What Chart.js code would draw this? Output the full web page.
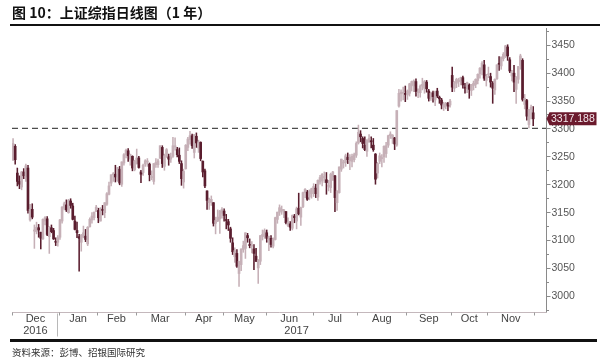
<!DOCTYPE html>
<html><head><meta charset="utf-8">
<script src="https://cdn.jsdelivr.net/npm/chart.js@4.4.1/dist/chart.umd.min.js"></script>
<style>
html,body{margin:0;padding:0;background:#fff;}
#wrap{position:relative;width:600px;height:361px;overflow:hidden;background:#fff;}
#title{position:absolute;left:12px;top:3px;font:700 14px/18px "Noto Sans CJK SC",sans-serif;color:#111;white-space:nowrap;}
#rule1{position:absolute;left:10px;top:24px;width:590px;height:2px;background:#111;}
#rule2{position:absolute;left:10px;top:339px;width:587px;height:3px;background:#111;}
#src{position:absolute;left:12px;top:346px;font:9.5px/13px "Noto Sans CJK SC",sans-serif;color:#333;white-space:nowrap;}
canvas{position:absolute;left:0;top:0;}
</style></head>
<body><div id="wrap">
<canvas id="c" width="600" height="361"></canvas>
<div id="title">图 10：上证综指日线图（1 年）</div>
<div id="rule1"></div>
<div id="src">资料来源：彭博、招银国际研究</div>
<div id="rule2"></div>
</div>
<script>
const dates = [
'2016-12-01','2016-12-02','2016-12-05','2016-12-06','2016-12-07','2016-12-08','2016-12-09','2016-12-12','2016-12-13','2016-12-14','2016-12-15','2016-12-16','2016-12-19','2016-12-20','2016-12-21','2016-12-22','2016-12-23','2016-12-26','2016-12-27','2016-12-28','2016-12-29','2016-12-30',
'2017-01-03','2017-01-04','2017-01-05','2017-01-06','2017-01-09','2017-01-10','2017-01-11','2017-01-12','2017-01-13','2017-01-16','2017-01-17','2017-01-18','2017-01-19','2017-01-20','2017-01-23','2017-01-24','2017-01-25','2017-01-26',
'2017-02-03','2017-02-06','2017-02-07','2017-02-08','2017-02-09','2017-02-10','2017-02-13','2017-02-14','2017-02-15','2017-02-16','2017-02-17','2017-02-20','2017-02-21','2017-02-22','2017-02-23','2017-02-24','2017-02-27','2017-02-28',
'2017-03-01','2017-03-02','2017-03-03','2017-03-06','2017-03-07','2017-03-08','2017-03-09','2017-03-10','2017-03-13','2017-03-14','2017-03-15','2017-03-16','2017-03-17','2017-03-20','2017-03-21','2017-03-22','2017-03-23','2017-03-24','2017-03-27','2017-03-28','2017-03-29','2017-03-30','2017-03-31',
'2017-04-05','2017-04-06','2017-04-07','2017-04-10','2017-04-11','2017-04-12','2017-04-13','2017-04-14','2017-04-17','2017-04-18','2017-04-19','2017-04-20','2017-04-21','2017-04-24','2017-04-25','2017-04-26','2017-04-27','2017-04-28',
'2017-05-02','2017-05-03','2017-05-04','2017-05-05','2017-05-08','2017-05-09','2017-05-10','2017-05-11','2017-05-12','2017-05-15','2017-05-16','2017-05-17','2017-05-18','2017-05-19','2017-05-22','2017-05-23','2017-05-24','2017-05-25','2017-05-26','2017-05-31',
'2017-06-01','2017-06-02','2017-06-05','2017-06-06','2017-06-07','2017-06-08','2017-06-09','2017-06-12','2017-06-13','2017-06-14','2017-06-15','2017-06-16','2017-06-19','2017-06-20','2017-06-21','2017-06-22','2017-06-23','2017-06-26','2017-06-27','2017-06-28','2017-06-29','2017-06-30',
'2017-07-03','2017-07-04','2017-07-05','2017-07-06','2017-07-07','2017-07-10','2017-07-11','2017-07-12','2017-07-13','2017-07-14','2017-07-17','2017-07-18','2017-07-19','2017-07-20','2017-07-21','2017-07-24','2017-07-25','2017-07-26','2017-07-27','2017-07-28','2017-07-31',
'2017-08-01','2017-08-02','2017-08-03','2017-08-04','2017-08-07','2017-08-08','2017-08-09','2017-08-10','2017-08-11','2017-08-14','2017-08-15','2017-08-16','2017-08-17','2017-08-18','2017-08-21','2017-08-22','2017-08-23','2017-08-24','2017-08-25','2017-08-28','2017-08-29','2017-08-30','2017-08-31',
'2017-09-01','2017-09-04','2017-09-05','2017-09-06','2017-09-07','2017-09-08','2017-09-11','2017-09-12','2017-09-13','2017-09-14','2017-09-15','2017-09-18','2017-09-19','2017-09-20','2017-09-21','2017-09-22','2017-09-25','2017-09-26','2017-09-27','2017-09-28','2017-09-29',
'2017-10-09','2017-10-10','2017-10-11','2017-10-12','2017-10-13','2017-10-16','2017-10-17','2017-10-18','2017-10-19','2017-10-20','2017-10-23','2017-10-24','2017-10-25','2017-10-26','2017-10-27','2017-10-30','2017-10-31',
'2017-11-01','2017-11-02','2017-11-03','2017-11-06','2017-11-07','2017-11-08','2017-11-09','2017-11-10','2017-11-13','2017-11-14','2017-11-15','2017-11-16','2017-11-17','2017-11-20','2017-11-21','2017-11-22','2017-11-23','2017-11-24','2017-11-27','2017-11-28','2017-11-29','2017-11-30'
];
const openP = [
3244,3268,3220,3205,3195,3222,3213,3229,3136,3155,3116,3115,3122,3114,3102,3134,3138,3106,3122,3117,3097,3096,
3105,3134,3157,3163,3149,3170,3161,3134,3117,3106,3096,3105,3107,3093,3124,3136,3140,3151,
3153,3134,3155,3149,3164,3182,3202,3217,3218,3207,3227,3200,3238,3253,3260,3245,3250,3226,
3237,3247,3222,3221,3236,3240,3236,3212,3205,3235,3235,3247,3266,3232,3250,3249,3245,3250,3267,3262,3252,3237,3204,
3228,3266,3280,3287,3257,3286,3265,3275,3241,3224,3188,3167,3168,3167,3130,3134,3138,3148,
3152,3136,3133,3120,3095,3070,3076,3040,3056,3083,3085,3108,3092,3089,3084,3071,3050,3062,3107,3106,
3113,3100,3103,3089,3101,3137,3150,3153,3150,3151,3126,3129,3121,3143,3134,3157,3141,3160,3185,3186,3177,3183,
3192,3193,3177,3204,3206,3212,3208,3196,3194,3214,3215,3167,3185,3227,3238,3239,3248,3242,3241,3244,3252,
3274,3290,3282,3270,3259,3276,3278,3270,3254,3220,3241,3246,3249,3255,3270,3287,3282,3283,3270,3340,3362,3363,3362,
3360,3363,3377,3376,3384,3364,3364,3376,3372,3383,3367,3354,3364,3351,3367,3356,3351,3338,3342,3345,3342,
3395,3372,3381,3384,3385,3391,3374,3371,3378,3368,3377,3379,3386,3398,3405,3414,3386,
3396,3393,3381,3369,3389,3416,3412,3425,3429,3446,3423,3394,3399,3370,3388,3413,3422,3343,3350,3307,3334,3328
];
const highP = [
3282,3271,3229,3215,3223,3228,3236,3234,3164,3165,3127,3132,3128,3114,3138,3142,3142,3124,3127,3121,3104,3108,
3137,3160,3168,3172,3173,3174,3166,3143,3132,3110,3110,3125,3119,3124,3140,3149,3150,3162,
3157,3158,3162,3167,3185,3204,3217,3221,3234,3230,3232,3240,3255,3263,3264,3254,3251,3243,
3263,3250,3225,3236,3244,3246,3238,3224,3237,3246,3245,3269,3269,3254,3264,3254,3256,3284,3283,3266,3265,3242,3227,
3271,3284,3295,3290,3289,3292,3279,3276,3242,3227,3188,3175,3179,3167,3141,3154,3153,3158,
3156,3146,3137,3123,3104,3086,3083,3062,3084,3098,3113,3112,3102,3097,3092,3085,3065,3108,3118,3120,
3118,3107,3108,3104,3141,3150,3163,3161,3155,3151,3140,3133,3145,3146,3159,3184,3159,3186,3192,3189,3190,3193,
3201,3200,3208,3216,3219,3222,3221,3207,3220,3223,3216,3188,3231,3245,3243,3254,3256,3253,3254,3256,3276,
3306,3296,3285,3285,3280,3289,3285,3282,3255,3239,3256,3253,3269,3275,3288,3294,3289,3284,3332,3370,3369,3374,3376,
3369,3381,3385,3387,3389,3371,3378,3390,3386,3386,3370,3365,3367,3367,3372,3358,3354,3347,3347,3347,3352,
3410,3384,3390,3390,3392,3394,3381,3383,3380,3379,3385,3389,3398,3409,3420,3422,3397,
3410,3399,3384,3389,3414,3429,3428,3436,3449,3450,3427,3404,3413,3393,3411,3433,3425,3361,3352,3334,3342,3339
];
const lowP = [
3242,3236,3197,3192,3190,3210,3205,3148,3134,3138,3085,3111,3105,3084,3101,3127,3108,3076,3113,3101,3090,3089,
3101,3130,3154,3151,3148,3157,3136,3118,3104,3044,3080,3104,3097,3090,3123,3130,3136,3151,
3131,3134,3145,3140,3162,3181,3197,3205,3204,3205,3199,3196,3234,3247,3241,3234,3224,3224,
3236,3229,3203,3216,3232,3232,3206,3208,3200,3230,3230,3246,3230,3225,3248,3234,3239,3248,3261,3249,3237,3198,3193,
3227,3260,3272,3264,3247,3266,3257,3242,3213,3194,3155,3155,3162,3125,3111,3133,3112,3139,
3134,3120,3117,3096,3074,3060,3051,3017,3045,3078,3067,3096,3086,3077,3047,3061,3022,3056,3100,3103,
3096,3081,3087,3086,3100,3130,3144,3146,3140,3129,3124,3117,3118,3131,3120,3145,3126,3158,3176,3171,3172,3175,
3178,3176,3171,3200,3197,3203,3182,3188,3185,3207,3151,3153,3184,3223,3229,3232,3237,3226,3231,3240,3248,
3272,3276,3265,3260,3250,3275,3265,3259,3200,3211,3237,3231,3239,3248,3266,3282,3273,3262,3268,3338,3349,3351,3348,
3352,3358,3367,3366,3358,3355,3356,3369,3363,3365,3349,3350,3347,3341,3355,3345,3335,3332,3335,3332,3338,
3366,3366,3373,3375,3378,3372,3363,3364,3354,3359,3369,3373,3380,3390,3396,3386,3376,
3391,3374,3345,3361,3388,3404,3406,3421,3427,3422,3400,3385,3366,3345,3381,3406,3349,3335,3315,3301,3317,3305
];
const closeP = [
3273,3244,3205,3200,3222,3215,3233,3153,3155,3141,3118,3123,3118,3103,3137,3140,3110,3123,3115,3102,3096,3104,
3136,3159,3165,3154,3171,3162,3137,3119,3113,3103,3109,3113,3101,3123,3137,3143,3150,3159,
3140,3157,3153,3167,3183,3197,3217,3218,3213,3230,3202,3240,3253,3261,3251,3253,3229,3242,
3247,3230,3218,3234,3242,3241,3217,3213,3237,3239,3242,3269,3237,3251,3262,3245,3249,3269,3267,3253,3241,3210,3223,
3270,3281,3287,3269,3289,3274,3276,3246,3222,3197,3171,3172,3173,3130,3135,3141,3152,3155,
3144,3135,3127,3103,3079,3081,3053,3062,3084,3090,3113,3104,3090,3091,3076,3062,3064,3108,3110,3117,
3103,3106,3092,3102,3140,3150,3158,3154,3154,3131,3132,3123,3144,3140,3156,3147,3158,3185,3191,3173,3188,3192,
3196,3183,3207,3212,3218,3213,3203,3198,3218,3222,3176,3188,3231,3245,3238,3251,3244,3248,3250,3253,3273,
3293,3285,3273,3262,3279,3282,3276,3262,3209,3237,3251,3246,3268,3269,3287,3290,3288,3272,3332,3363,3365,3364,3361,
3367,3380,3384,3385,3366,3365,3376,3379,3384,3371,3354,3363,3357,3366,3358,3353,3342,3344,3345,3340,3349,
3374,3383,3388,3386,3391,3378,3372,3382,3370,3379,3381,3388,3397,3408,3417,3390,3393,
3396,3383,3372,3388,3414,3415,3428,3433,3448,3430,3403,3399,3383,3392,3411,3430,3352,3354,3322,3334,3338,3317.188
];
const monthLabels = ['Dec','Jan','Feb','Mar','Apr','May','Jun','Jul','Aug','Sep','Oct','Nov'];
const yearLabels = ['2016','2017'];
const yTickLabels = [3000,3050,3100,3150,3200,3250,3300,3350,3400,3450];
const yMinorTicks = [2975,3025,3075,3125,3175,3225,3275,3325,3375,3425,3475];
const refLevel = 3300;

const UP = '#c6b0b7', DOWN = '#5a1d2e';
const colorFor = i => closeP[i] >= openP[i] ? UP : DOWN;
const wickData = dates.map((d,i)=>({x:i, y:[lowP[i], highP[i]]}));
const bodyData = dates.map((d,i)=>({x:i, y:[openP[i], closeP[i]]}));

const refLinePlugin = {
  id:'refLine',
  beforeDatasetsDraw(chart){
    const {ctx, chartArea:a, scales:{y}} = chart;
    const yy = y.getPixelForValue(refLevel);
    ctx.save();
    ctx.strokeStyle='#4d4d4d'; ctx.lineWidth=1.3; ctx.setLineDash([6,4]);
    ctx.beginPath(); ctx.moveTo(a.left, yy); ctx.lineTo(a.right, yy); ctx.stroke();
    ctx.restore();
  }
};

const axesPlugin = {
  id:'axesDraw',
  afterDraw(chart){
    const {ctx, chartArea:a, scales:{x,y}} = chart;
    ctx.save();
    const ax = Math.round(a.right)+0.5, ay = Math.round(a.bottom)+0.5;
    ctx.lineWidth=1; ctx.strokeStyle='#c4b8bc';
    ctx.beginPath(); ctx.moveTo(a.left, ay); ctx.lineTo(ax, ay); ctx.stroke();
    ctx.strokeStyle='#8a8a8a';
    ctx.beginPath(); ctx.moveTo(ax, a.top); ctx.lineTo(ax, ay); ctx.stroke();
    ctx.fillStyle='#555'; ctx.font='10.5px "Liberation Sans", Arial, sans-serif';
    ctx.textAlign='left'; ctx.textBaseline='middle';
    yMinorTicks.forEach(v=>{
      const py = Math.round(y.getPixelForValue(v))+0.5;
      ctx.beginPath(); ctx.moveTo(ax, py); ctx.lineTo(ax+2.5, py); ctx.stroke();
    });
    yTickLabels.forEach(v=>{
      const py = y.getPixelForValue(v);
      const pr = Math.round(py)+0.5;
      ctx.beginPath(); ctx.moveTo(ax, pr); ctx.lineTo(ax+4, pr); ctx.stroke();
      ctx.fillText(String(v), ax+5, py+0.5);
    });
    const groups = [];
    dates.forEach((d,i)=>{
      const key = d.slice(0,7);
      if (!groups.length || groups[groups.length-1].key !== key) groups.push({key, year:d.slice(0,4), start:i, end:i});
      else groups[groups.length-1].end = i;
    });
    ctx.strokeStyle='#9a9a9a';
    ctx.fillStyle='#444'; ctx.font='11px "Liberation Sans", Arial, sans-serif';
    ctx.textAlign='center'; ctx.textBaseline='middle';
    groups.forEach((g,k)=>{
      const x0 = x.getPixelForValue(g.start-0.5), x1 = x.getPixelForValue(g.end+0.5);
      const t0 = Math.round(x0)+0.5;
      ctx.beginPath(); ctx.moveTo(t0, ay); ctx.lineTo(t0, ay+3); ctx.stroke();
      if (k === groups.length-1) { const t1=Math.round(x1)+0.5; ctx.beginPath(); ctx.moveTo(t1, ay); ctx.lineTo(t1, ay+3); ctx.stroke(); }
      ctx.fillText(monthLabels[k], (x0+x1)/2, ay+6);
    });
    ctx.strokeStyle='#b8b8b8';
    yearLabels.forEach((yr,k)=>{
      const gs = groups.filter(g=>g.year===yr);
      const x0 = x.getPixelForValue(gs[0].start-0.5), x1 = x.getPixelForValue(gs[gs.length-1].end+0.5);
      ctx.fillText(yr, (x0+x1)/2, ay+18);
      if (k>0) { const t=Math.round(x0)-1.5; ctx.beginPath(); ctx.moveTo(t, ay+1); ctx.lineTo(t, ay+24); ctx.stroke(); }
    });
    const last = closeP[closeP.length-1];
    const ly = y.getPixelForValue(last);
    const bx = ax+3, bw = 47, bh = 13;
    ctx.fillStyle='#6b1a2d';
    ctx.beginPath();
    ctx.moveTo(ax, ly); ctx.lineTo(bx, ly-bh/2); ctx.lineTo(bx+bw, ly-bh/2); ctx.lineTo(bx+bw, ly+bh/2); ctx.lineTo(bx, ly+bh/2); ctx.closePath();
    ctx.fill();
    ctx.fillStyle='#f4e8ec'; ctx.font='10.5px "Liberation Sans", Arial, sans-serif';
    ctx.textAlign='left'; ctx.textBaseline='middle';
    ctx.fillText(last.toFixed(3), bx+1.5, ly+0.5);
    ctx.restore();
  }
};

new Chart(document.getElementById('c'), {
  type:'bar',
  data:{datasets:[
    {data:wickData, backgroundColor:c=>colorFor(c.dataIndex), barThickness:0.9, grouped:false, order:2},
    {data:bodyData, backgroundColor:c=>colorFor(c.dataIndex), barThickness:2.0, grouped:false, minBarLength:1, order:1}
  ]},
  options:{
    responsive:false, animation:false, devicePixelRatio:1,
    layout:{padding:{left:12,right:54,top:28,bottom:49}},
    plugins:{legend:{display:false}, tooltip:{enabled:false}},
    scales:{
      x:{type:'linear', display:false, offset:false, grid:{offset:false}, min:-0.5, max:250},
      y:{display:false, min:2971, max:3480}
    }
  },
  plugins:[refLinePlugin, axesPlugin]
});
</script>
</body></html>
